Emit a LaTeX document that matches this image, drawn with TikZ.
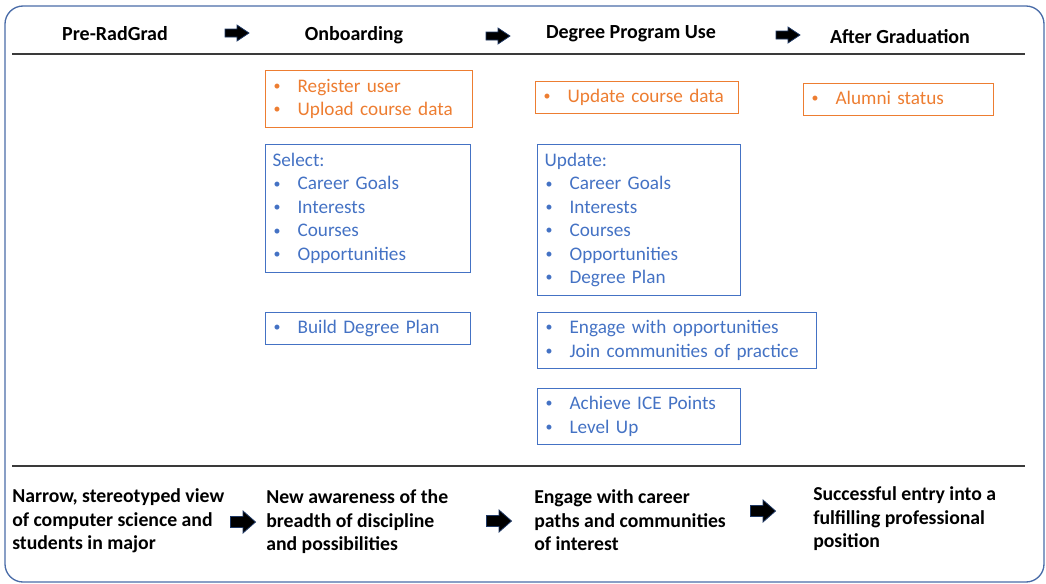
\documentclass[tikz,border=0pt]{standalone}
\usepackage{fontspec}
\setmainfont{Carlito}
\definecolor{orng}{HTML}{ED7D31}
\definecolor{blu}{HTML}{4472C4}
\definecolor{frm}{HTML}{4A6CA8}
\definecolor{navy}{HTML}{1F3864}
\definecolor{rule}{HTML}{3A3A3A}
\newcommand\bul{\makebox[18.75pt][l]{\hspace*{0.8pt}\raisebox{1.2pt}{\fontsize{10.5}{10}\selectfont•}}}
\begin{document}
\begin{tikzpicture}[x=0.75pt,y=-0.75pt,
  every node/.style={font=\fontsize{14.4}{17.6}\selectfont},
  bx/.style n args={4}{draw=#1,text=#1,line width=0.9pt,inner xsep=5.25pt,inner ysep=0pt,
     align=left,anchor=north west,minimum width=#2,text width=#3,minimum height=#4},
  hdr/.style={font=\fontsize{15}{17.6}\selectfont\bfseries,anchor=base,inner sep=0pt},
  btm/.style={font=\fontsize{14.8}{17.6}\selectfont\bfseries,anchor=north west,inner sep=0pt,align=left},
  hline/.style={draw=rule,line width=1.1pt},
  topar/.pic={\filldraw[fill=black,draw=navy,line width=0.6pt]
     (-12,-4)--(0,-4)--(0,-8)--(12,0)--(0,8)--(0,4)--(-12,4)--cycle;},
  botar/.pic={\filldraw[fill=black,draw=navy,line width=0.6pt]
     (-12.5,-5.5)--(0,-5.5)--(0,-11)--(12.5,0)--(0,11)--(0,5.5)--(-12.5,5.5)--cycle;}
]
\useasboundingbox (0,0) rectangle (1046,583);
\draw[frm,line width=1pt,rounded corners=13.5pt] (5,6) rectangle (1044,582);

% headers
\node[hdr] (h1) at (115,40) {Pre-RadGrad};
\node[hdr] (h2) at (354,40) {Onboarding};
\node[hdr] (h3) at (631,38) {Degree Program Use};
\node[hdr] (h4) at (900,43) {After Graduation};
\pic at (237,33) {topar};
\pic at (498,36) {topar};
\pic at (788,35) {topar};
\draw[hline] (12,54) -- (1025,54);

% onboarding column
\node[bx={orng}{155.25pt}{144.75pt}{42.75pt}] (reg) at (265,70)
  {\strut\bul Register user\\\bul Upload course data\strut};
\node[bx={blu}{153.75pt}{143.25pt}{96pt}] (sel) at (265,144)
  {\strut Select:\\\bul Career Goals\\\bul Interests\\\bul Courses\\\bul Opportunities\strut};
\node[bx={blu}{153.75pt}{143.25pt}{24pt}] (bld) at (265,312)
  {\strut\bul Build Degree Plan\strut};

% degree program column
\node[bx={orng}{152.25pt}{141.75pt}{24pt}] (upc) at (535,81)
  {\strut\bul Update course data\strut};
\node[bx={blu}{152.25pt}{141.75pt}{113.25pt}] (upd) at (537,144)
  {\strut Update:\\\bul Career Goals\\\bul Interests\\\bul Courses\\\bul Opportunities\\\bul Degree Plan\strut};
\node[bx={blu}{209.25pt}{198.75pt}{42pt}] (eng) at (537,312)
  {\strut\bul Engage with opportunities\\\bul Join communities of practice\strut};
\node[bx={blu}{152.25pt}{141.75pt}{42pt}] (ach) at (537,388)
  {\strut\bul Achieve ICE Points\\\bul Level Up\strut};

% after graduation column
\node[bx={orng}{142.5pt}{132pt}{24pt}] (alm) at (803,83)
  {\strut\bul Alumni status\strut};

% bottom section
\draw[hline] (12,466) -- (1025,466);
\node[btm] (b1) at (12,486) {\strut Narrow, stereotyped view\\of computer science and\\students in major};
\node[btm] (b2) at (266,487) {\strut New awareness of the\\breadth of discipline\\and possibilities};
\node[btm] (b3) at (534,487) {\strut Engage with career\\paths and communities\\of interest};
\node[btm] (b4) at (813,484) {\strut Successful entry into a\\fulfilling professional\\position};
\pic at (243,522) {botar};
\pic at (499,521) {botar};
\pic at (763,511) {botar};
\end{tikzpicture}
\end{document}
